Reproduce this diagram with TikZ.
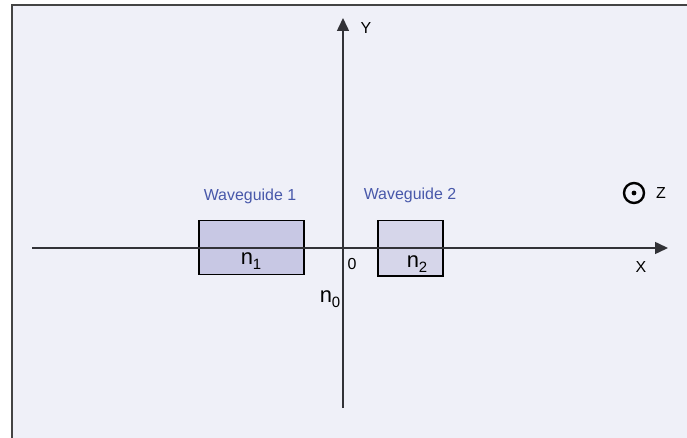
\documentclass[tikz,border=0pt]{standalone}
\usepackage{fontspec}
\setmainfont{Liberation Sans}
\usetikzlibrary{arrows.meta}
\definecolor{bgcol}{RGB}{239,240,248}
\definecolor{framecol}{RGB}{68,68,68}
\definecolor{axiscol}{RGB}{50,50,55}
\definecolor{wgafill}{RGB}{200,200,228}
\definecolor{wgbfill}{RGB}{214,214,234}
\definecolor{labblue}{RGB}{72,88,170}
\tikzset{
  axisline/.style={draw=axiscol, line width=1.5bp, -{Triangle[length=13bp,width=12bp]}},
  wgbox/.style={draw=black, line width=1.5bp, inner sep=0pt, anchor=north west},
  lab/.style={inner sep=0pt, font=\fontsize{16}{18}\selectfont},
  wglab/.style={inner sep=0pt, text=labblue, font=\fontsize{16}{19}\selectfont},
  idx/.style={inner sep=0pt, font=\fontsize{22}{24}\selectfont},
}
\newcommand{\subidx}[1]{{\fontsize{15}{15}\selectfont\raisebox{-4.5bp}{#1}}}
\begin{document}
\begin{tikzpicture}[x=1bp,y=-1bp]
\useasboundingbox (0,0) rectangle (687,438);
\clip (0,0) rectangle (687,438);
\draw[fill=bgcol, draw=framecol, line width=1.6bp] (12,5) rectangle (720,470);
% waveguides
\node[wgbox, fill=wgafill, minimum width=105bp, minimum height=54bp] (wg1) at (198,220) {};
\node[wgbox, fill=wgbfill, minimum width=65bp, minimum height=55bp] (wg2) at (377,220) {};
% axes
\coordinate (xl) at (32,248);
\coordinate (xr) at (668,248);
\coordinate (yb) at (343,408);
\coordinate (yt) at (343,18);
\draw[axisline] (xl) -- (xr);
\draw[axisline] (yb) -- (yt);
% labels
\node[lab] (ylab) at (366,28) {Y};
\node[lab] (xlab) at (641,267) {X};
\node[lab] (orig) at (352,264) {0};
\node[wglab] (wg1lab) at (250,196) {Waveguide 1};
\node[wglab] (wg2lab) at (410,195) {Waveguide 2};
\node[idx] (n1) at (251,261) {n\subidx{1}};
\node[idx] (n2) at (417,264) {n\subidx{2}};
\node[idx] (n0) at (330,299) {n\subidx{0}};
% z symbol
\node[circle, draw=black, line width=2.4bp, minimum size=20bp, inner sep=0pt] (zc) at (634,193) {};
\fill (zc.center) circle (2.4bp);
\node[lab] (zlab) at (661,193) {Z};
\end{tikzpicture}
\end{document}
